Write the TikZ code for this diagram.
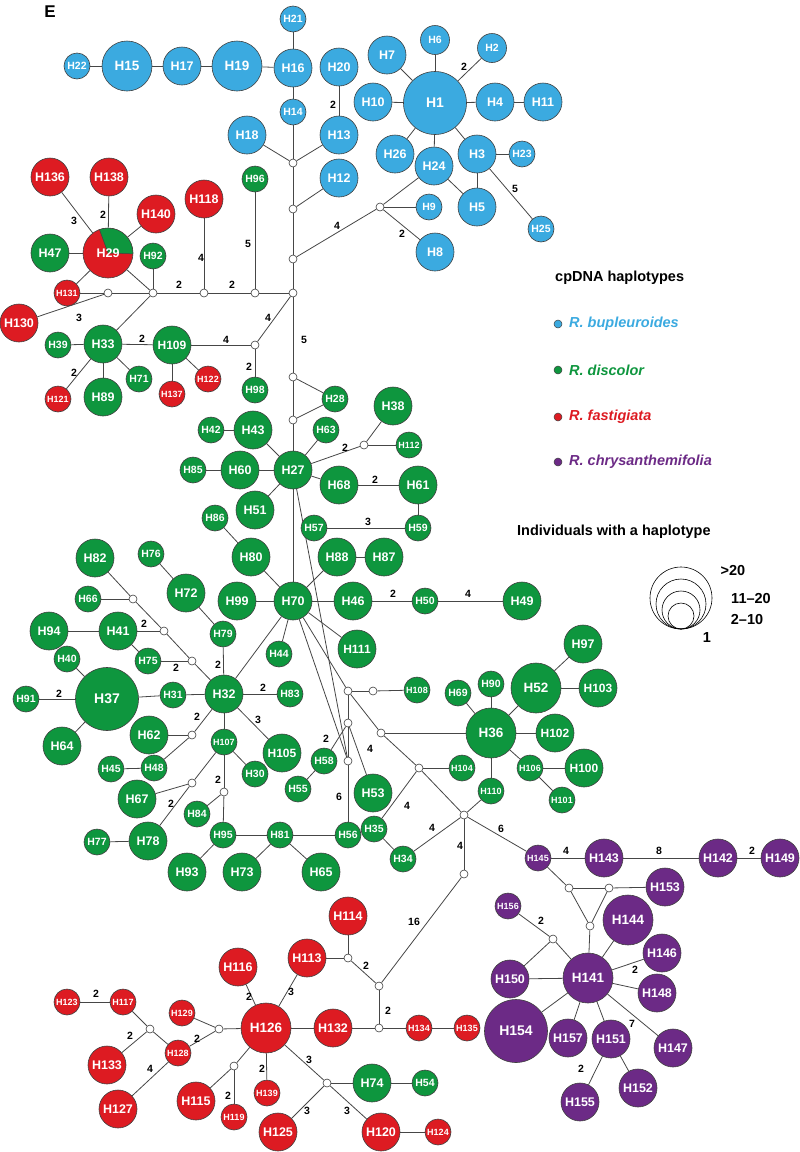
\documentclass[tikz,border=0pt]{standalone}
\usepackage{fontspec}
\setmainfont{Liberation Sans}
\usetikzlibrary{backgrounds}
\definecolor{cB}{RGB}{59,170,224}
\definecolor{cG}{RGB}{14,150,62}
\definecolor{cR}{RGB}{221,27,34}
\definecolor{cP}{RGB}{108,42,134}
\definecolor{cE}{RGB}{70,70,70}
\tikzset{
 hap/.style={circle,draw=black!75,line width=0.6pt,inner sep=0pt,text=white},
 sa/.style={hap,minimum size=26pt,font=\fontsize{10.5}{10.5}\selectfont\bfseries},
 st/.style={hap,minimum size=26pt,font=\fontsize{9}{9}\selectfont\bfseries},
 sb/.style={hap,minimum size=38pt,font=\fontsize{12.5}{12.5}\selectfont\bfseries},
 sbt/.style={hap,minimum size=38pt,font=\fontsize{12}{12}\selectfont\bfseries},
 sc/.style={hap,minimum size=50pt,font=\fontsize{13.5}{13.5}\selectfont\bfseries},
 sd/.style={hap,minimum size=63pt,font=\fontsize{14}{14}\selectfont\bfseries},
 B/.style={fill=cB}, G/.style={fill=cG}, R/.style={fill=cR}, P/.style={fill=cP},
 jn/.style={circle,draw=black!75,fill=white,line width=0.6pt,minimum size=8pt,inner sep=0pt},
 ln/.style={draw=cE,line width=0.8pt},
 el/.style={font=\fontsize{10.5}{10.5}\selectfont\bfseries,inner sep=0pt},
 lg/.style={font=\fontsize{14.5}{14.5}\selectfont\bfseries,inner sep=0pt},
 dot/.style={circle,draw=black!75,line width=0.5pt,minimum size=8pt,inner sep=0pt},
 sz/.style={circle,draw=black,line width=0.6pt,inner sep=0pt}
}
\begin{document}
\begin{tikzpicture}[x=1pt,y=-1pt]
\useasboundingbox (0,0) rectangle (800,1152);
\node[font=\fontsize{17}{17}\selectfont\bfseries] (E) at (50,12) {E};
% ---------- blue
\node[sa,B] (H22) at (77,66) {H22};
\node[sc,B] (H15) at (127,66) {H15};
\node[sb,B] (H17) at (182,66) {H17};
\node[sc,B] (H19) at (237,66) {H19};
\node[sb,B] (H16) at (293,68) {H16};
\node[sa,B] (H21) at (293,19) {H21};
\node[sa,B] (H14) at (293,112) {H14};
\node[sb,B] (H20) at (339,67) {H20};
\node[sb,B] (H13) at (339,135) {H13};
\node[sb,B] (H18) at (247,135) {H18};
\node[sb,B] (H12) at (339,178) {H12};
\node[sb,B] (H7) at (387,55) {H7};
\node[sa,B,minimum size=29pt] (H6) at (435,40) {H6};
\node[sa,B,minimum size=29pt] (H2) at (492,48) {H2};
\node[sd,B] (H1) at (435,103) {H1};
\node[sb,B] (H10) at (373,102) {H10};
\node[sb,B] (H4) at (495,102) {H4};
\node[sb,B] (H11) at (543,102) {H11};
\node[sb,B] (H26) at (395,154) {H26};
\node[sb,B] (H24) at (434,166) {H24};
\node[sb,B] (H3) at (477,154) {H3};
\node[sa,B] (H23) at (522,154) {H23};
\node[sb,B] (H5) at (477,207) {H5};
\node[sa,B] (H9) at (429,207) {H9};
\node[sb,B] (H8) at (435,252) {H8};
\node[sa,B] (H25) at (541,229) {H25};
% ---------- top left
\node[sb,R] (H136) at (50,177) {H136};
\node[sb,R] (H138) at (109,177) {H138};
\node[sb,R] (H140) at (156,214) {H140};
\node[sb,R] (H118) at (204,199) {H118};
\node[sa,G] (H96) at (255,179) {H96};
\node[sb,G] (H47) at (50,253) {H47};
\node[sc,R,font=\fontsize{12.5}{12.5}\selectfont\bfseries,path picture={\fill[cG,draw=black!75,line width=0.5pt] (path picture bounding box.center) -- ++(2:30) arc[start angle=2,end angle=-110,radius=30] -- cycle;}] (H29) at (108,253) {H29};
\node[sa,G] (H92) at (153,256) {H92};
\node[st,R] (H131) at (67,293) {H131};
\node[sb,R] (H130) at (19,323) {H130};
\node[sa,G] (H39) at (58,345) {H39};
\node[sb,G] (H33) at (103,344) {H33};
\node[sbt,G] (H109) at (172,345) {H109};
\node[sa,G] (H71) at (139,379) {H71};
\node[sb,G] (H89) at (103,397) {H89};
\node[st,R] (H121) at (58,399) {H121};
\node[st,R] (H137) at (172,394) {H137};
\node[st,R] (H122) at (208,379) {H122};
\node[sa,G] (H98) at (255,390) {H98};
% ---------- middle green
\node[sa,G] (H28) at (335,399) {H28};
\node[sa,G] (H63) at (326,430) {H63};
\node[sb,G] (H38) at (393,406) {H38};
\node[st,G] (H112) at (409,445) {H112};
\node[sb,G] (H27) at (293,470) {H27};
\node[sa,G] (H42) at (211,430) {H42};
\node[sb,G] (H43) at (253,430) {H43};
\node[sa,G] (H85) at (193,470) {H85};
\node[sb,G] (H60) at (240,470) {H60};
\node[sb,G] (H51) at (255,510) {H51};
\node[sb,G] (H68) at (339,485) {H68};
\node[sb,G] (H61) at (418,485) {H61};
\node[sa,G] (H57) at (314,528) {H57};
\node[sa,G] (H59) at (418,528) {H59};
\node[sa,G] (H86) at (215,518) {H86};
\node[sb,G] (H80) at (251,557) {H80};
\node[sb,G] (H88) at (337,557) {H88};
\node[sb,G] (H87) at (384,557) {H87};
\node[sb,G] (H82) at (95,558) {H82};
\node[sa,G] (H76) at (151,554) {H76};
\node[sb,G] (H72) at (186,593) {H72};
\node[sb,G] (H99) at (237,601) {H99};
\node[sb,G] (H70) at (293,601) {H70};
\node[sb,G] (H46) at (353,601) {H46};
\node[sa,G] (H50) at (425,601) {H50};
\node[sb,G] (H49) at (522,601) {H49};
\node[sa,G] (H66) at (88,599) {H66};
\node[sb,G] (H94) at (49,631) {H94};
\node[sb,G] (H41) at (118,631) {H41};
\node[sa,G] (H79) at (223,634) {H79};
\node[sbt,G] (H111) at (357,649) {H111};
\node[sa,G] (H44) at (279,654) {H44};
\node[sa,G] (H40) at (67,659) {H40};
\node[sa,G] (H75) at (148,661) {H75};
\node[sd,G] (H37) at (107,699) {H37};
\node[sa,G] (H91) at (26,699) {H91};
\node[sa,G] (H31) at (173,695) {H31};
\node[sb,G] (H32) at (224,694) {H32};
\node[sa,G] (H83) at (290,694) {H83};
\node[sb,G] (H62) at (149,735) {H62};
\node[sb,G] (H64) at (62,746) {H64};
\node[st,G] (H107) at (224,742) {H107};
\node[sbt,G] (H105) at (282,753) {H105};
\node[sa,G] (H30) at (255,774) {H30};
\node[sa,G] (H45) at (111,769) {H45};
\node[sa,G] (H48) at (154,768) {H48};
\node[sb,G] (H67) at (137,799) {H67};
\node[sa,G] (H84) at (197,814) {H84};
\node[sb,G] (H78) at (148,841) {H78};
\node[sa,G] (H77) at (97,842) {H77};
\node[sa,G] (H95) at (223,835) {H95};
\node[sa,G] (H81) at (280,835) {H81};
\node[sa,G] (H56) at (348,835) {H56};
\node[sb,G] (H93) at (187,872) {H93};
\node[sb,G] (H73) at (242,872) {H73};
\node[sb,G] (H65) at (321,872) {H65};
\node[st,G] (H108) at (417,690) {H108};
\node[sa,G] (H69) at (458,693) {H69};
\node[sa,G] (H90) at (491,684) {H90};
\node[sc,G] (H52) at (536,688) {H52};
\node[sb,G] (H97) at (583,644) {H97};
\node[sbt,G] (H103) at (598,688) {H103};
\node[sc,G] (H36) at (491,733) {H36};
\node[sbt,G] (H102) at (555,733) {H102};
\node[st,G] (H106) at (530,768) {H106};
\node[sbt,G] (H100) at (584,768) {H100};
\node[st,G] (H101) at (562,800) {H101};
\node[sa,G] (H58) at (324,761) {H58};
\node[sa,G] (H55) at (298,789) {H55};
\node[sb,G] (H53) at (373,793) {H53};
\node[st,G] (H104) at (462,768) {H104};
\node[st,G] (H110) at (491,791) {H110};
\node[sa,G] (H35) at (374,829) {H35};
\node[sa,G] (H34) at (403,859) {H34};
\node[sb,G] (H74) at (372,1083) {H74};
\node[sa,G] (H54) at (425,1083) {H54};
% ---------- red bottom
\node[sb,R] (H114) at (348,916) {H114};
\node[sb,R] (H113) at (307,958) {H113};
\node[sb,R] (H116) at (238,967) {H116};
\node[sc,R] (H126) at (266,1028) {H126};
\node[sb,R] (H132) at (333,1028) {H132};
\node[st,R] (H134) at (419,1028) {H134};
\node[st,R] (H135) at (467,1028) {H135};
\node[st,R] (H123) at (67,1002) {H123};
\node[st,R] (H117) at (123,1002) {H117};
\node[st,R] (H129) at (182,1013) {H129};
\node[st,R] (H128) at (178,1053) {H128};
\node[sb,R] (H133) at (107,1065) {H133};
\node[sb,R] (H127) at (118,1109) {H127};
\node[sb,R] (H115) at (196,1101) {H115};
\node[st,R] (H119) at (234,1117) {H119};
\node[st,R] (H139) at (267,1093) {H139};
\node[sb,R] (H125) at (278,1132) {H125};
\node[sb,R] (H120) at (381,1132) {H120};
\node[st,R] (H124) at (438,1132) {H124};
% ---------- purple
\node[st,P] (H145) at (538,858) {H145};
\node[sb,P] (H143) at (604,858) {H143};
\node[sb,P] (H142) at (718,858) {H142};
\node[sb,P] (H149) at (780,858) {H149};
\node[sb,P] (H153) at (665,887) {H153};
\node[sc,P] (H144) at (628,920) {H144};
\node[st,P] (H156) at (508,906) {H156};
\node[sb,P] (H150) at (510,979) {H150};
\node[sc,P] (H141) at (588,978) {H141};
\node[sb,P] (H146) at (662,953) {H146};
\node[sb,P] (H148) at (657,993) {H148};
\node[sd,P] (H154) at (516,1031) {H154};
\node[sb,P] (H157) at (568,1038) {H157};
\node[sb,P] (H151) at (611,1039) {H151};
\node[sb,P] (H147) at (673,1048) {H147};
\node[sb,P] (H155) at (580,1102) {H155};
\node[sb,P] (H152) at (638,1088) {H152};
% ---------- junctions
\node[jn] (jb1) at (293,163) {};
\node[jn] (jb2) at (293,209) {};
\node[jn] (jb3) at (293,259) {};
\node[jn] (jb4) at (380,207) {};
\node[jn] (jc) at (293,293) {};
\node[jn] (jr1) at (255,293) {};
\node[jn] (jr2) at (204,293) {};
\node[jn] (jr3) at (153,293) {};
\node[jn] (jr4) at (108,293) {};
\node[jn] (jd) at (255,345) {};
\node[jn] (je1) at (293,377) {};
\node[jn] (je2) at (293,420) {};
\node[jn] (jf) at (364,445) {};
\node[jn] (jg1) at (133,599) {};
\node[jn] (jg2) at (164,631) {};
\node[jn] (jg3) at (192,661) {};
\node[jn] (jh1) at (192,735) {};
\node[jn] (jh2) at (192,783) {};
\node[jn] (jh3) at (224,792) {};
\node[jn] (jm1) at (348,691) {};
\node[jn] (jm2) at (373,691) {};
\node[jn] (jm3) at (348,723) {};
\node[jn] (jm4) at (381,733) {};
\node[jn] (jm5) at (348,761) {};
\node[jn] (jm6) at (419,768) {};
\node[jn] (jm7) at (464,815) {};
\node[jn] (jm8) at (464,874) {};
\node[jn] (jq1) at (348,958) {};
\node[jn] (jq2) at (379,986) {};
\node[jn] (jq3) at (379,1028) {};
\node[jn] (jt) at (327,1083) {};
\node[jn] (js1) at (150,1029) {};
\node[jn] (js2) at (219,1029) {};
\node[jn] (js3) at (234,1066) {};
\node[jn] (jp1) at (569,888) {};
\node[jn] (jp2) at (609,888) {};
\node[jn] (jp3) at (590,926) {};
\node[jn] (jp4) at (553,939) {};
% ---------- edges
\begin{scope}[on background layer]
\draw[ln] (H27.center) -- (jm5);
\foreach \a/\b in {H22/H15,H15/H17,H17/H19,H19/H16,H16/H21,H16/H14,H14/jb1,H18/jb1,H13/jb1,H20/H13,jb1/jb2,H12/jb2,jb2/jb3,jb3/jb4,jb4/H9,jb4/H8,jb4/H24,H24/H1,H24/H5,H1/H6,H1/H7,H1/H10,H1/H2,H1/H4,H4/H11,H1/H26,H1/H3,H3/H23,H3/H5,H3/H25,jb3/jc,
jc/jr1,jr1/jr2,jr2/jr3,jr3/jr4,jr4/H131,H96/jr1,H118/jr2,jr3/H92,jr3/H29,jr3/H33,jr4/H130,H29/H136,H29/H138,H29/H140,H29/H47,H29/H131,jc/jd,jd/H109,jd/H98,H109/H33,H109/H137,H109/H122,H33/H39,H33/H89,H33/H71,H33/H121,
jc/je1,je1/H28,je1/je2,je2/H28,je2/H27,H27/H43,H43/H42,H27/H60,H60/H85,H27/H51,H27/H63,H27/jf,jf/H38,jf/H112,H27/H68,H68/H61,H61/H59,H59/H57,H27/H70,
H80/H70,H86/H80,H99/H70,H88/H70,H88/H87,H70/H46,H46/H50,H50/H49,H70/H111,H70/H44,H70/H32,H70/jm1,H70/jm5,
H32/H79,H79/H72,H72/H76,H32/jg3,jg3/H75,jg3/jg2,jg2/H41,jg2/jg1,jg1/H66,jg1/H82,H41/H94,H41/H75,H37/H40,H37/H91,H37/H31,H31/H32,H37/H64,H32/H83,H32/H105,H32/H107,H32/jh1,jh1/H62,jh1/H48,H48/H45,H107/H30,H107/jh2,jh2/H67,jh2/H78,H107/jh3,jh3/H84,jh3/H95,H78/H77,H95/H81,H95/H93,H81/H73,H81/H65,H81/H56,H56/jm5,
jm1/jm2,jm2/H108,jm1/jm3,jm3/jm5,jm1/jm4,jm4/H36,jm4/jm6,jm6/jm7,jm6/H104,jm6/H35,jm3/H58,jm3/H53,H58/H55,jm7/H110,H110/H36,jm7/H34,H35/H34,jm7/jm8,jm7/H145,
H36/H69,H36/H90,H36/H52,H52/H97,H52/H103,H36/H102,H36/H106,H106/H100,H106/H101,
jm8/jq2,jq2/jq1,jq1/H114,jq1/H113,H113/H126,jq2/jq3,jq3/H132,jq3/H134,H134/H135,H132/H126,H126/H116,H126/js2,js2/H129,js2/H128,H128/js1,js1/H117,H117/H123,js1/H133,H128/H127,H126/js3,js3/H115,js3/H119,H126/H139,H126/jt,jt/H74,H74/H54,jt/H125,jt/H120,H120/H124,
H145/H143,H143/H142,H142/H149,H145/jp1,jp1/jp2,jp2/H153,jp1/jp3,jp2/jp3,jp3/H141,H141/H144,H141/jp4,jp4/H156,jp4/H150,H150/H141,H141/H154,H141/H146,H141/H148,H141/H147,H141/H151,H141/H157,H151/H155,H151/H152}
  {\draw[ln] (\a) -- (\b);}
\end{scope}
% ---------- edge labels
\foreach \x/\y/\t in {464/67/2,333/105/2,337/226/4,402/234/2,515/189/5,74/221/3,103/215/2,201/258/4,248/244/5,179/285/2,232/285/2,79/318/3,142/339/2,226/340/4,268/318/4,249/367/2,74/373/2,304/340/5,345/448/2,375/480/2,368/522/3,393/594/2,468/594/4,144/624/2,176/668/2,218/665/2,59/694/2,263/688/2,197/717/2,258/720/3,218/780/2,171/804/2,326/739/2,370/749/4,339/797/6,407/806/4,432/828/4,501/829/6,460/846/4,414/922/16,366/966/2,291/992/3,388/1011/2,249/997/2,96/994/2,130/1036/2,197/1039/2,150/1069/4,228/1096/2,262/1069/2,309/1060/3,307/1111/3,347/1111/3,566/851/4,659/851/8,752/851/2,541/921/2,635/970/2,632/1024/7,581/1069/2}
  {\node[el] at (\x,\y) {\t};}
% ---------- legend
\node[lg,anchor=west] (lt) at (555,278) {cpDNA haplotypes};
\node[dot,fill=cB] (d1) at (558,324) {};
\node[dot,fill=cG] (d2) at (558,370) {};
\node[dot,fill=cR] (d3) at (558,417) {};
\node[dot,fill=cP] (d4) at (558,462) {};
\node[lg,anchor=west,text=cB] (l1) at (569,324) {\itshape R. bupleuroides};
\node[lg,anchor=west,text=cG] (l2) at (569,370) {\itshape R. discolor};
\node[lg,anchor=west,text=cR] (l3) at (569,417) {\itshape R. fastigiata};
\node[lg,anchor=west,text=cP] (l4) at (569,462) {\itshape R. chrysanthemifolia};
\node[lg,anchor=west] (li) at (517,532) {Individuals with a haplotype};
\node[sz,minimum size=62pt] (z4) at (681,598) {};
\node[sz,minimum size=50pt] (z3) at (681,604) {};
\node[sz,minimum size=38pt] (z2) at (681,610) {};
\node[sz,minimum size=26pt] (z1) at (681,616) {};
\node[lg] (t4) at (733,570) {>20};
\node[lg] (t3) at (751,598) {11–20};
\node[lg] (t2) at (747,619) {2–10};
\node[lg] (t1) at (707,638) {1};
\end{tikzpicture}
\end{document}
